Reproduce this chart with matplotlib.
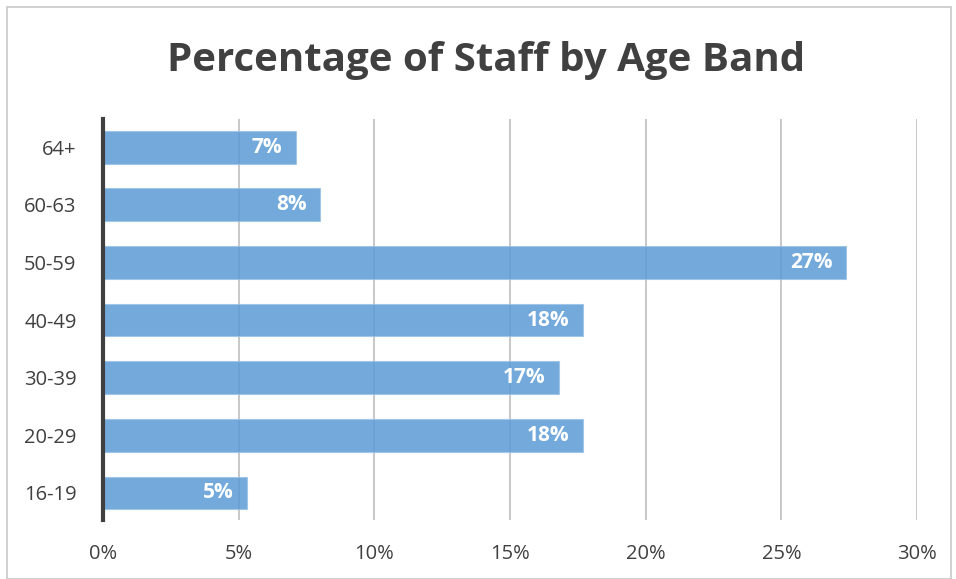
import matplotlib.pyplot as plt
from matplotlib.patches import Rectangle

bands = ['16-19', '20-29', '30-39', '40-49', '50-59', '60-63', '64+']
pct = [5.3, 17.7, 16.8, 17.7, 27.4, 8.0, 7.1]
labels = ['5%', '18%', '17%', '18%', '27%', '8%', '7%']
xticks = [0, 5, 10, 15, 20, 25, 30]

plt.rcParams['font.family'] = ['Open Sans', 'DejaVu Sans']

fig = plt.figure(figsize=(9.56, 5.79), dpi=100)
fig.patches.append(Rectangle((7 / 956, 0), 944 / 956, 572 / 579, transform=fig.transFigure,
                             fill=False, edgecolor='#c8c8c8', linewidth=1.2))
ax = fig.add_axes([103 / 956, 59 / 579, 814 / 956, 401 / 579])

y = range(len(bands))
ax.barh(y, pct, height=0.57, color='#5b9bd5', alpha=0.85, edgecolor='#9cc3e6', linewidth=0.8, zorder=3)
for i, v in enumerate(pct):
    ax.text(v - 0.5, i, labels[i], ha='right', va='center', color='white',
            fontsize=15, fontweight='bold', zorder=4)

ax.set_xlim(0, 30)
ax.set_ylim(-0.47, 6.49)
ax.set_xticks(xticks)
ax.set_xticklabels([f'{t}%' for t in xticks])
ax.set_yticks(list(y))
ax.set_yticklabels(bands)
ax.tick_params(length=0, labelsize=14.5, labelcolor='#404040')
ax.tick_params(axis='x', pad=17)
ax.tick_params(axis='y', pad=19)
ax.grid(axis='x', color='#bfbfbf', linewidth=1.2, zorder=0)
for s in ['top', 'right', 'bottom']:
    ax.spines[s].set_visible(False)
ax.spines['left'].set_color('#404040')
ax.spines['left'].set_linewidth(3)
ax.spines['left'].set_zorder(5)

fig.text(486 / 956, 1 - 60 / 579, 'Percentage of Staff by Age Band', ha='center', va='center',
         fontsize=29, fontweight='bold', color='#404040')

fig.savefig('out.png', dpi=100)
